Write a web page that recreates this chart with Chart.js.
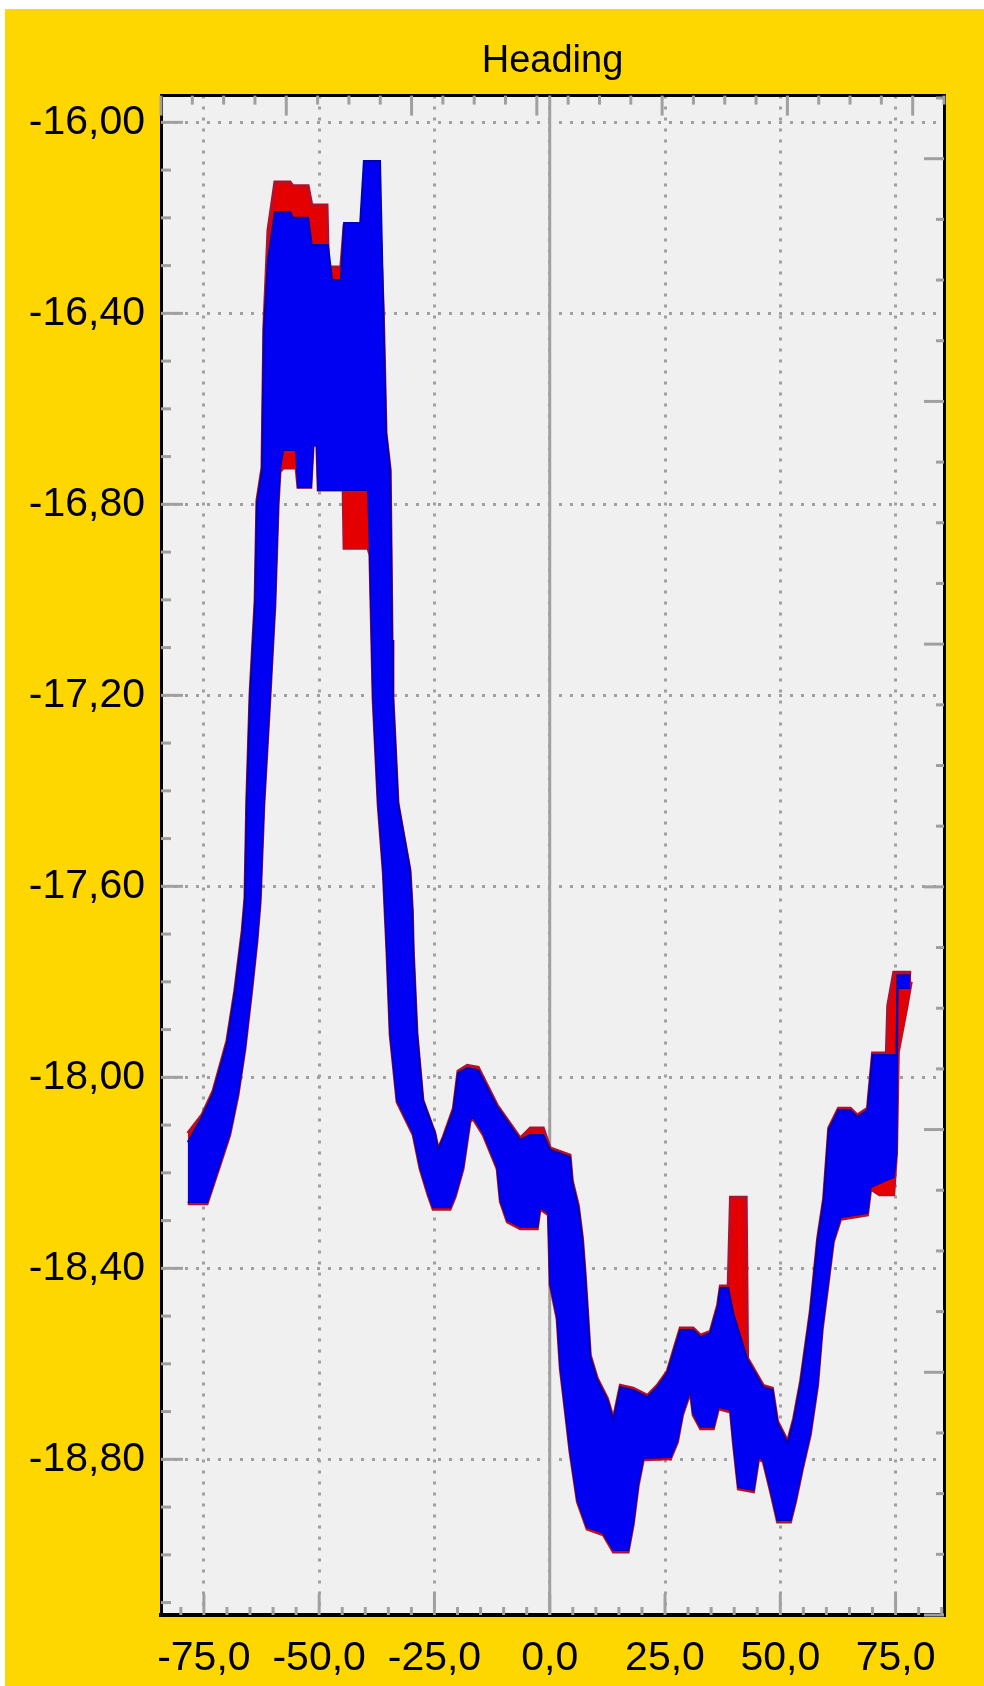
<!DOCTYPE html>
<html>
<head>
<meta charset="utf-8">
<title>Heading</title>
<script src="https://cdn.jsdelivr.net/npm/chart.js@4.4.1/dist/chart.umd.min.js"></script>
<style>
    html, body { margin: 0; padding: 0; background: #ffffff; }
    #frame {
        position: absolute;
        left: 5px;
        top: 9px;
        width: 979px;
        height: 1677px;
        background: #ffd700;
    }
    canvas { display: block; }
</style>
</head>
<body>
<div id="frame"><canvas id="headingChart" width="979" height="1677"></canvas></div>

<script>
/* ============================================
   HEADING — two-run band plot (red / blue)
   ============================================ */

/* -------------------------------
   Axis ranges + tick labels
--------------------------------*/
const X_MIN = -84.3, X_MAX = 85.5;
const Y_MIN = -19.126, Y_MAX = -15.944;

const xTickValues = [-75, -50, -25, 0, 25, 50, 75];
const xTickLabels = ["-75,0", "-50,0", "-25,0", "0,0", "25,0", "50,0", "75,0"];

const yTickValues = [-16.0, -16.4, -16.8, -17.2, -17.6, -18.0, -18.4, -18.8];
const yTickLabels = ["-16,00", "-16,40", "-16,80", "-17,20", "-17,60", "-18,00", "-18,40", "-18,80"];

/* -------------------------------
   Data: upper / lower edge of each point cloud  [x, heading]
--------------------------------*/
const blueUpper = [
    [-78.5,-18.136],[-75.4,-18.083],[-73.0,-18.033],[-70.0,-17.928],[-68.3,-17.823],[-66.7,-17.698],
    [-66.1,-17.629],[-65.7,-17.426],[-65.0,-17.204],[-63.9,-17.007],[-63.5,-16.797],[-62.4,-16.728],
    [-62.0,-16.435],[-61.1,-16.288],[-59.6,-16.188],[-56.3,-16.188],[-55.7,-16.200],[-52.4,-16.200],
    [-51.6,-16.257],[-48.1,-16.257],[-47.2,-16.330],[-45.3,-16.330],[-44.6,-16.211],[-41.1,-16.211],
    [-40.3,-16.081],[-36.8,-16.081],[-36.1,-16.393],[-35.5,-16.651],[-34.6,-16.728],[-34.4,-16.896],
    [-34.2,-17.084],[-34.0,-17.204],[-32.9,-17.426],[-30.3,-17.566],[-29.8,-17.650],[-29.6,-17.733],
    [-28.8,-17.907],[-27.5,-18.048],[-24.9,-18.117],[-24.2,-18.152],[-23.1,-18.127],[-20.9,-18.069],
    [-19.9,-17.991],[-17.9,-17.981],[-15.5,-17.985],[-11.4,-18.062],[-6.4,-18.131],[-4.2,-18.121],
    [-1.4,-18.121],[0.1,-18.152],[4.4,-18.167],[4.9,-18.221],[6.2,-18.272],[7.1,-18.341],
    [7.7,-18.418],[8.8,-18.586],[10.3,-18.634],[12.5,-18.676],[13.8,-18.718],[15.3,-18.649],
    [18.1,-18.655],[21.2,-18.670],[23.3,-18.649],[25.5,-18.619],[26.8,-18.577],[28.3,-18.529],
    [31.1,-18.529],[32.7,-18.544],[34.8,-18.536],[36.4,-18.481],[37.0,-18.441],[38.7,-18.441],
    [39.8,-18.494],[42.9,-18.592],[46.3,-18.649],[48.3,-18.655],[49.4,-18.724],[51.6,-18.766],
    [52.9,-18.718],[54.4,-18.640],[56.5,-18.494],[58.1,-18.341],[59.4,-18.257],[60.5,-18.110],
    [62.6,-18.069],[65.2,-18.069],[66.7,-18.083],[68.9,-18.069],[70.0,-17.953],[75.2,-17.953],
    [75.4,-17.786],[78.2,-17.786]
];

const blueLower = [
    [-78.5,-18.261],[-74.3,-18.261],[-71.5,-18.179],[-69.4,-18.117],[-67.6,-18.033],[-66.1,-17.937],
    [-64.6,-17.811],[-63.5,-17.712],[-62.8,-17.629],[-62.0,-17.426],[-60.7,-17.204],[-59.6,-17.007],
    [-58.9,-16.797],[-58.5,-16.728],[-57.8,-16.686],[-55.0,-16.686],[-54.6,-16.764],[-51.8,-16.764],
    [-51.3,-16.676],[-50.5,-16.676],[-50.2,-16.770],[-39.4,-16.770],[-39.0,-16.902],[-38.3,-17.204],
    [-37.2,-17.426],[-36.1,-17.566],[-35.7,-17.650],[-35.3,-17.733],[-34.6,-17.907],[-33.1,-18.048],
    [-29.6,-18.117],[-28.1,-18.188],[-26.4,-18.242],[-25.3,-18.272],[-21.6,-18.272],[-20.5,-18.246],
    [-18.8,-18.188],[-17.3,-18.089],[-16.6,-18.083],[-14.4,-18.117],[-11.4,-18.188],[-10.7,-18.257],
    [-9.2,-18.299],[-6.4,-18.313],[-2.7,-18.313],[-2.1,-18.272],[-0.3,-18.284],[0.1,-18.431],
    [1.6,-18.502],[2.3,-18.607],[3.4,-18.697],[4.4,-18.781],[6.0,-18.885],[8.1,-18.942],
    [11.6,-18.954],[13.8,-18.990],[17.0,-18.990],[18.1,-18.933],[19.2,-18.850],[20.3,-18.797],
    [26.2,-18.795],[27.7,-18.760],[28.8,-18.703],[30.5,-18.655],[31.1,-18.703],[32.7,-18.732],
    [35.5,-18.732],[36.6,-18.690],[39.2,-18.697],[39.8,-18.760],[40.9,-18.858],[44.2,-18.864],
    [45.3,-18.795],[46.3,-18.801],[47.9,-18.864],[49.4,-18.927],[52.2,-18.927],[53.3,-18.885],
    [54.8,-18.816],[56.5,-18.745],[58.1,-18.640],[59.1,-18.523],[60.5,-18.418],[61.5,-18.341],
    [63.1,-18.293],[68.9,-18.284],[69.6,-18.230],[74.6,-18.209],[75.2,-18.159],[75.4,-17.813],
    [78.2,-17.813]
];

const redUpper = [
    [-78.5,-18.117],[-75.4,-18.078],[-73.0,-18.028],[-70.0,-17.923],[-68.3,-17.818],[-66.7,-17.693],
    [-66.1,-17.624],[-65.7,-17.421],[-65.0,-17.199],[-63.9,-17.002],[-63.5,-16.792],[-62.4,-16.723],
    [-62.0,-16.430],[-61.1,-16.226],[-59.6,-16.125],[-56.3,-16.125],[-55.7,-16.133],[-52.4,-16.133],
    [-51.6,-16.173],[-48.3,-16.173],[-48.0,-16.303],[-45.3,-16.303],[-44.6,-16.216],[-36.8,-16.216],
    [-36.1,-16.393],[-35.5,-16.651],[-34.6,-16.728],[-34.4,-16.896],[-34.2,-17.084],[-34.0,-17.204],
    [-32.9,-17.426],[-30.3,-17.566],[-29.8,-17.650],[-29.6,-17.733],[-28.8,-17.907],[-27.5,-18.048],
    [-24.9,-18.117],[-24.2,-18.150],[-23.1,-18.125],[-20.9,-18.065],[-19.9,-17.987],[-17.9,-17.975],
    [-15.5,-17.979],[-11.4,-18.058],[-6.4,-18.127],[-4.2,-18.106],[-1.4,-18.106],[0.1,-18.148],
    [4.4,-18.163],[4.9,-18.217],[6.2,-18.268],[7.1,-18.337],[7.7,-18.414],[8.8,-18.582],
    [10.3,-18.630],[12.5,-18.672],[13.8,-18.714],[15.3,-18.645],[18.1,-18.651],[21.2,-18.666],
    [23.3,-18.645],[25.5,-18.615],[26.8,-18.573],[28.3,-18.525],[31.1,-18.525],[32.7,-18.540],
    [34.8,-18.532],[36.4,-18.477],[37.0,-18.437],[38.7,-18.437],[39.2,-18.251],[42.6,-18.251],
    [42.9,-18.588],[46.3,-18.645],[48.3,-18.651],[49.4,-18.720],[51.6,-18.762],[52.9,-18.714],
    [54.4,-18.636],[56.5,-18.490],[58.1,-18.337],[59.4,-18.253],[60.5,-18.106],[62.6,-18.065],
    [65.2,-18.065],[66.7,-18.079],[68.9,-18.065],[70.0,-17.949],[73.0,-17.949],[73.3,-17.850],
    [74.6,-17.780],[78.4,-17.780]
];

const redLower = [
    [-78.5,-18.265],[-74.3,-18.265],[-71.5,-18.183],[-69.4,-18.121],[-67.6,-18.037],[-66.1,-17.941],
    [-64.6,-17.815],[-63.5,-17.716],[-62.8,-17.633],[-62.0,-17.430],[-60.7,-17.208],[-59.6,-17.011],
    [-58.9,-16.801],[-58.5,-16.732],[-57.8,-16.724],[-55.0,-16.724],[-54.6,-16.764],[-51.8,-16.764],
    [-51.3,-16.676],[-50.5,-16.676],[-50.2,-16.770],[-44.8,-16.770],[-44.6,-16.892],[-39.4,-16.892],
    [-39.0,-16.906],[-38.3,-17.208],[-37.2,-17.430],[-36.1,-17.570],[-35.7,-17.654],[-35.3,-17.737],
    [-34.6,-17.911],[-33.1,-18.052],[-29.6,-18.121],[-28.1,-18.192],[-26.4,-18.246],[-25.3,-18.276],
    [-21.6,-18.276],[-20.5,-18.250],[-18.8,-18.192],[-17.3,-18.093],[-16.6,-18.087],[-14.4,-18.121],
    [-11.4,-18.192],[-10.7,-18.261],[-9.2,-18.303],[-6.4,-18.317],[-2.7,-18.317],[-2.1,-18.276],
    [-0.3,-18.288],[0.1,-18.435],[1.6,-18.506],[2.3,-18.611],[3.4,-18.701],[4.4,-18.785],
    [6.0,-18.889],[8.1,-18.946],[11.6,-18.958],[13.8,-18.994],[17.0,-18.994],[18.1,-18.937],
    [19.2,-18.854],[20.3,-18.801],[26.2,-18.799],[27.7,-18.764],[28.8,-18.707],[30.5,-18.659],
    [31.1,-18.707],[32.7,-18.736],[35.5,-18.736],[36.6,-18.694],[39.2,-18.701],[39.8,-18.764],
    [40.9,-18.862],[44.2,-18.868],[45.3,-18.799],[46.3,-18.805],[47.9,-18.868],[49.4,-18.931],
    [52.2,-18.931],[53.3,-18.889],[54.8,-18.820],[56.5,-18.749],[58.1,-18.644],[59.1,-18.527],
    [60.5,-18.422],[61.5,-18.345],[63.1,-18.297],[68.9,-18.288],[69.6,-18.234],[71.5,-18.246],
    [74.6,-18.246],[75.2,-18.159],[75.6,-17.947],[77.5,-17.850],[78.4,-17.800]
];

/* -------------------------------
   Styles
--------------------------------*/
const FONT = "'Liberation Sans', Arial, sans-serif";
const PLOT_BG = "#f0f0f0";
const GRID = "#a0a0a0";
const BLUE = "#0000f2", BLUE_EDGE = "#0000b4";
const RED = "#e40000", RED_EDGE = "#b3102e";

/* -------------------------------
   Helper: one edge of a band
--------------------------------*/
function edge(label, points, fillColor, lineColor, width, fill) {
    return {
        label: label,
        data: points.map(p => ({ x: p[0], y: p[1] })),
        borderColor: lineColor,
        backgroundColor: fillColor,
        borderWidth: width,
        pointRadius: 0,
        tension: 0,
        fill: fill
    };
}

/* -------------------------------
   Helper: short inward tick marks on a frame side
--------------------------------*/
function innerTicks(ctx, scale, step, major, minorLen, majorLen) {
    const a = scale.chart.chartArea;
    const first = Math.ceil(scale.min / step - 1e-9);
    const last = Math.floor(scale.max / step + 1e-9);

    for (let i = first; i <= last; i++) {
        const v = i * step;
        const isMajor = Math.abs(v / major - Math.round(v / major)) < 1e-6;
        const len = isMajor ? majorLen : minorLen;
        const p = scale.getPixelForValue(v);

        ctx.beginPath();
        if (scale.isHorizontal()) {
            const y0 = scale.position === "top" ? a.top : a.bottom;
            const dir = scale.position === "top" ? 1 : -1;
            ctx.moveTo(p, y0);
            ctx.lineTo(p, y0 + dir * len);
        } else {
            const x0 = scale.position === "left" ? a.left : a.right;
            const dir = scale.position === "left" ? 1 : -1;
            ctx.moveTo(x0, p);
            ctx.lineTo(x0 + dir * len, p);
        }
        ctx.stroke();
    }
}

/* -------------------------------
   Plugin: plot background, zero line, frame ticks
--------------------------------*/
const plotFrame = {
    id: "plotFrame",
    beforeDraw(chart) {
        const { ctx, chartArea: a } = chart;
        ctx.save();
        ctx.fillStyle = PLOT_BG;
        ctx.fillRect(a.left, a.top, a.right - a.left, a.bottom - a.top);
        ctx.restore();
    },
    beforeDatasetsDraw(chart) {
        const { ctx, chartArea: a, scales } = chart;
        ctx.save();
        ctx.setLineDash([]);
        ctx.strokeStyle = GRID;
        ctx.lineWidth = 3;

        // solid line at x = 0
        const x0 = scales.x.getPixelForValue(0);
        ctx.beginPath();
        ctx.moveTo(x0, a.top);
        ctx.lineTo(x0, a.bottom);
        ctx.stroke();

        innerTicks(ctx, scales.y, 0.1, 0.4, 10, 22);
        innerTicks(ctx, scales.x, 5, 25, 8, 21);
        innerTicks(ctx, scales.x2, 0.25, 1, 9, 20);
        innerTicks(ctx, scales.y2, 0.25, 1, 8, 20);
        ctx.restore();
    }
};

/* -------------------------------
   Chart
--------------------------------*/
const tickFont = { family: FONT, size: 41, weight: "normal" };

new Chart(document.getElementById("headingChart").getContext("2d"), {
    type: "line",
    data: {
        datasets: [
            edge("blue upper", blueUpper, BLUE, BLUE_EDGE, 2, "+1"),
            edge("blue lower", blueLower, BLUE, BLUE_EDGE, 2, false),
            edge("red upper", redUpper, RED, RED_EDGE, 3, "+1"),
            edge("red lower", redLower, RED, RED_EDGE, 3, false)
        ]
    },
    options: {
        responsive: false,
        animation: false,
        devicePixelRatio: 1,
        layout: { padding: { left: 0, right: 40, top: 0, bottom: 0 } },
        plugins: {
            legend: { display: false },
            tooltip: { enabled: false },
            title: {
                display: true,
                fullSize: false,
                text: "Heading",
                color: "#000",
                font: { family: FONT, size: 38, weight: "normal" },
                padding: { top: 30, bottom: 11 }
            }
        },
        scales: {
            x: {
                type: "linear",
                position: "bottom",
                min: X_MIN,
                max: X_MAX,
                afterBuildTicks: s => { s.ticks = xTickValues.map(v => ({ value: v })); },
                afterFit: s => { s.height = 71; },
                ticks: {
                    autoSkip: false,
                    maxRotation: 0,
                    padding: 19,
                    color: "#000",
                    font: tickFont,
                    callback: v => xTickLabels[xTickValues.indexOf(v)]
                },
                grid: { color: GRID, lineWidth: 3, drawTicks: false, borderDash: [3, 8] },
                border: { color: "#000", width: 4, dash: [3, 8] }
            },
            x2: {
                type: "linear",
                position: "top",
                min: -1,
                max: 5.25,
                afterFit: s => { s.height = 0; },
                ticks: { display: false },
                grid: { drawOnChartArea: false, drawTicks: false },
                border: { color: "#000", width: 3 }
            },
            y: {
                type: "linear",
                position: "left",
                min: Y_MIN,
                max: Y_MAX,
                afterBuildTicks: s => { s.ticks = yTickValues.slice().reverse().map(v => ({ value: v })); },
                afterFit: s => { s.width = 156; },
                ticks: {
                    autoSkip: false,
                    padding: 16,
                    color: "#000",
                    font: tickFont,
                    callback: v => yTickLabels[yTickValues.indexOf(v)]
                },
                grid: { color: GRID, lineWidth: 3, drawTicks: false, borderDash: [3, 8] },
                border: { color: "#000", width: 3, dash: [3, 8] }
            },
            y2: {
                type: "linear",
                position: "right",
                min: 0,
                max: 6.26,
                afterFit: s => { s.width = 0; },
                ticks: { display: false },
                grid: { drawOnChartArea: false, drawTicks: false },
                border: { color: "#000", width: 3 }
            }
        }
    },
    plugins: [plotFrame]
});
</script>
</body>
</html>
